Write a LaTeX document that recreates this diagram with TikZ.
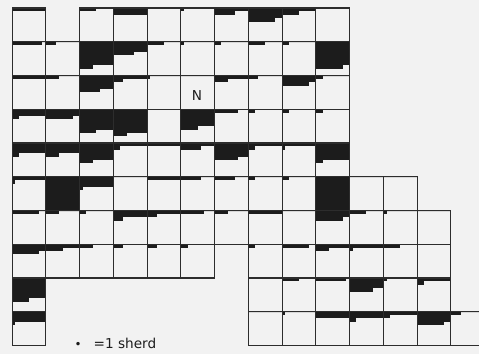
\documentclass[tikz,border=0pt]{standalone}
\usepackage{fontspec}
\setsansfont{DejaVu Sans}
\usepackage{tikz}
\definecolor{paperwhite}{RGB}{242, 242, 242}
\definecolor{sherdblack}{RGB}{28, 28, 28}
\definecolor{gridgrey}{RGB}{45, 45, 45}

\begin{document}
\begin{tikzpicture}[
    x=1cm, y=-1cm,
    square/.style={draw=gridgrey, line width=0.85pt},
    sherdfill/.style={fill=sherdblack},
    northmark/.style={font=\sffamily\fontsize{11.5}{13}\selectfont, text=sherdblack, inner sep=0pt},
    legendtext/.style={font=\sffamily\fontsize{11.5}{13}\selectfont, text=sherdblack, inner sep=0pt}
]

% Page frame (reference margins)
\fill[paperwhite, use as bounding box] (-0.356,-0.237) rectangle (13.837,10.252);
\clip (-0.356,-0.237) rectangle (13.837,10.252);

% Sherd counts: col/row/count, 10 sherds to a line of dots
\foreach \c/\r/\n in {
    0/0/10, 2/0/5, 3/0/20, 4/0/0, 5/0/1, 6/0/16, 7/0/38, 8/0/15, 9/0/0,
    0/1/9, 1/1/3, 2/1/74, 3/1/36, 4/1/5, 5/1/1, 6/1/2, 7/1/5, 8/1/2, 9/1/78,
    0/2/10, 1/2/4, 2/2/46, 3/2/13, 4/2/1, 5/2/0, 6/2/14, 7/2/3, 8/2/28, 9/2/2,
    0/3/22, 1/3/28, 2/3/65, 3/3/74, 4/3/0, 5/3/55, 6/3/7, 7/3/2, 8/3/2, 9/3/2,
    0/4/32, 1/4/34, 2/4/54, 3/4/12, 4/4/10, 5/4/16, 6/4/47, 7/4/12, 8/4/11, 9/4/52,
    0/5/11, 1/5/104, 2/5/31, 3/5/0, 4/5/10, 5/5/6, 6/5/6, 7/5/2, 8/5/2, 9/5/128, 10/5/0, 11/5/0,
    0/6/8, 1/6/0, 2/6/2, 3/6/23, 4/6/13, 5/6/7, 6/6/4, 7/6/10, 8/6/0, 9/6/0, 10/6/5, 11/6/1, 12/6/0,
    0/7/28, 1/7/15, 2/7/4, 3/7/3, 4/7/3, 5/7/2, 7/7/2, 8/7/8, 9/7/14, 10/7/11, 11/7/5, 12/7/0,
    0/8/65, 7/8/0, 8/8/5, 9/8/9, 10/8/37, 11/8/1, 12/8/12,
    0/9/31, 7/9/0, 8/9/1, 9/9/20, 10/9/22, 11/9/12, 12/9/38, 13/9/3}{
    \pgfmathtruncatemacro{\nrows}{\n/10}
    \pgfmathsetmacro{\npart}{\n/10-\nrows}
    \fill[sherdfill] (\c,\r) rectangle ++(1,{0.1*\nrows});
    \fill[sherdfill] (\c,{\r+0.1*\nrows}) rectangle ++(\npart,0.1);
}

% Row 0 (one square not dug)
\foreach \c in {0,2,3,...,9} \draw[square] (\c,0) rectangle ++(1,1);

% Rows 1-4
\foreach \r in {1,...,4}
    \foreach \c in {0,...,9} \draw[square] (\c,\r) rectangle ++(1,1);

% Rows 5-7: trench widens to the east
\foreach \c in {0,...,11} \draw[square] (\c,5) rectangle ++(1,1);
\foreach \c in {0,...,12} \draw[square] (\c,6) rectangle ++(1,1);
\foreach \c in {0,1,2,3,4,5,7,8,9,10,11,12} \draw[square] (\c,7) rectangle ++(1,1);

% Rows 8-9: west strip and east block
\foreach \c in {0,7,8,9,10,11,12} \draw[square] (\c,8) rectangle ++(1,1);
\foreach \c in {0,7,8,9,10,11,12,13} \draw[square] (\c,9) rectangle ++(1,1);

% North marker
\node[northmark] (north) at (5.48,2.60) {N};

% Key
\node[legendtext, anchor=base west] (sherdkey) at (2.41,10.10) {=1 sherd};
\node[legendtext, font=\sffamily\fontsize{10}{10}\selectfont] (keydot) at (1.956,9.99) {\textbullet};

\end{tikzpicture}
\end{document}
